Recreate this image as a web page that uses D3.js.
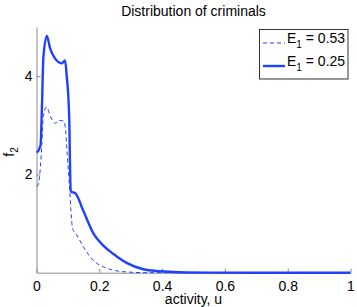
<!DOCTYPE html>
<html>
<head>
<meta charset="utf-8">
<script src="https://cdn.jsdelivr.net/npm/d3@7"></script>
<style>
  body { margin: 0; background: #fff; }
  svg text { font-family: "Liberation Sans", Arial, sans-serif; }
</style>
</head>
<body>
<svg id="chart" width="357" height="307"></svg>
<script>
// values
var uDashed = [0, 0.005, 0.015, 0.022, 0.032, 0.045, 0.061, 0.072, 0.088, 0.093, 0.098, 0.104, 0.115, 0.128, 0.149, 0.170, 0.192, 0.213, 0.245, 0.30, 0.35, 1];
var fDashed = [1.76, 1.78, 2.39, 3.2, 3.37, 3.17, 3.04, 3.1, 3.08, 2.87, 2.39, 1.85, 0.90, 0.77, 0.53, 0.33, 0.19, 0.12, 0.05, 0.01, 0, 0];

var uSolid = [0, 0.005, 0.011, 0.013, 0.017, 0.022, 0.033, 0.043, 0.059, 0.080, 0.091, 0.096, 0.104, 0.109, 0.123, 0.149, 0.181, 0.213, 0.245, 0.287, 0.340, 0.393, 0.457, 0.55, 0.7, 1];
var fSolid = [2.45, 2.47, 2.56, 2.6, 3.3, 4.39, 4.82, 4.57, 4.36, 4.26, 4.32, 4.02, 3.2, 1.65, 1.62, 1.26, 0.80, 0.55, 0.38, 0.20, 0.07, 0.03, 0.01, 0.002, 0, 0];

var xTicks = [0, 0.2, 0.4, 0.6, 0.8, 1];
var yTicks = [2, 4];
var legendLabels = ["0.53", "0.25"];

var blue = "#2040ff";
var svg = d3.select("#chart");

var x = d3.scaleLinear().domain([0, 1]).range([36.5, 350.5]);
var y = d3.scaleLinear().domain([0, 5]).range([272.7, 27]);

// axes (matlab style, ticks pointing in, no box)
var xAxis = svg.append("g")
    .attr("transform", "translate(0," + y(0) + ")")
    .call(d3.axisBottom(x).tickValues(xTicks).tickFormat(d3.format("")).tickSizeInner(-4).tickSizeOuter(0).tickPadding(8));
var yAxis = svg.append("g")
    .attr("transform", "translate(" + x(0) + ",0)")
    .call(d3.axisLeft(y).tickValues(yTicks).tickFormat(d3.format("")).tickSizeInner(-4).tickSizeOuter(0).tickPadding(4));

[xAxis, yAxis].forEach(function(g){
    g.select(".domain").attr("stroke", "#8a8a8a");
    g.selectAll(".tick line").attr("stroke", "#8a8a8a");
    g.selectAll(".tick text").attr("fill", "#000").style("font-size", "14px")
        .style("font-family", "'Liberation Sans', Arial, sans-serif");
});

var line = d3.line()
    .curve(d3.curveMonotoneX)
    .x(function(d){ return x(d[0]); })
    .y(function(d){ return y(d[1]); });

var dashed = d3.zip(uDashed, fDashed);
var solid = d3.zip(uSolid, fSolid);

svg.append("path").datum(dashed)
    .attr("d", line)
    .attr("fill", "none")
    .attr("stroke", blue)
    .attr("stroke-width", 1)
    .attr("stroke-dasharray", "4,3");

svg.append("path").datum(solid)
    .attr("d", line)
    .attr("fill", "none")
    .attr("stroke", blue)
    .attr("stroke-width", 2.4)
    .attr("stroke-linejoin", "round");

// title and labels
svg.append("text")
    .attr("x", 193.5).attr("y", 16)
    .attr("text-anchor", "middle")
    .style("font-size", "14px")
    .text("Distribution of criminals");

svg.append("text")
    .attr("x", 193.5).attr("y", 303.5)
    .attr("text-anchor", "middle")
    .style("font-size", "14px")
    .text("activity, u");

var ylab = svg.append("text")
    .attr("transform", "translate(14,152) rotate(-90)")
    .attr("text-anchor", "middle")
    .style("font-size", "14px");
ylab.append("tspan").text("f");
ylab.append("tspan").attr("dy", 4).style("font-size", "10px").text("2");

// legend
var leg = svg.append("g");
leg.append("rect")
    .attr("x", 259.5).attr("y", 29.5)
    .attr("width", 88.5).attr("height", 49.5)
    .attr("fill", "#fff")
    .attr("stroke", "#333")
    .attr("stroke-width", 1);

legendLabels.forEach(function(lab, i){
    var ly = 43 + i * 23;
    leg.append("line")
        .attr("x1", 263).attr("x2", 285)
        .attr("y1", ly).attr("y2", ly)
        .attr("stroke", blue)
        .attr("stroke-width", i == 0 ? 1 : 2.4)
        .attr("stroke-dasharray", i == 0 ? "4,3" : null);
    var t = leg.append("text")
        .attr("x", 287).attr("y", ly)
        .style("font-size", "14px");
    t.append("tspan").text("E");
    t.append("tspan").attr("dy", 5).style("font-size", "10px").text("1");
    t.append("tspan").attr("dy", -5).text(" = " + lab);
});
</script>
</body>
</html>
